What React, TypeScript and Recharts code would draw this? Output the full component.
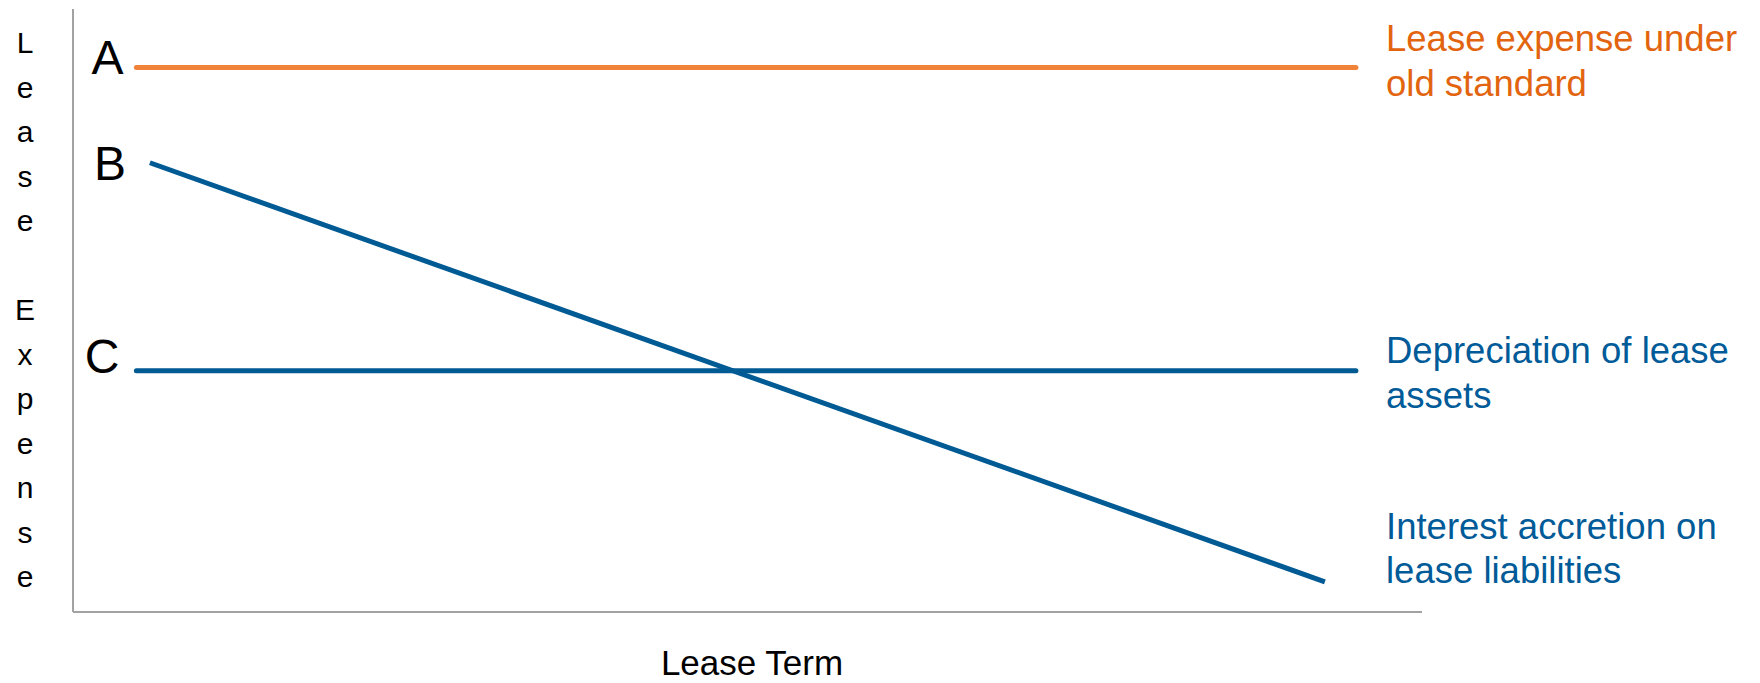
import { LineChart, Line, XAxis, YAxis, Customized } from 'recharts';

// lease term position (0-100) and expense level (0-100) of each line's end points
const termA = [4.7, 95.1];
const expenseA = [90.3, 90.3];
const termB = [5.7, 92.8];
const expenseB = [74.5, 5];
const termC = [4.7, 95.1];
const expenseC = [40, 40];

const seriesLetters = ['A', 'B', 'C'];
const seriesNotes = [
  ['Lease expense under', 'old standard'],
  ['Interest accretion on', 'lease liabilities'],
  ['Depreciation of lease', 'assets'],
];
const yAxisTitle = 'Lease Expense';
const xAxisTitle = 'Lease Term';

const FONT = '"Liberation Sans", Arial, Helvetica, sans-serif';
const ORANGE_LINE = '#F0823A';
const ORANGE_TEXT = '#E2640F';
const BLUE_LINE = '#005A94';
const BLUE_TEXT = '#005B98';
const AXIS = '#A2A2A2';

const toRows = (terms: number[], values: number[]) =>
  terms.map((t, i) => ({ t, v: values[i] }));

const dataA = toRows(termA, expenseA);
const dataB = toRows(termB, expenseB);
const dataC = toRows(termC, expenseC);

// letter drawn just left of the first point of a line
const letterLabel = (letter: string, dx: number, dy: number) => (props: any) => {
  const { x, y, index } = props;
  if (index !== 0) return null;
  return (
    <text
      key={letter}
      x={x + dx}
      y={y + dy}
      textAnchor="end"
      fontFamily={FONT}
      fontSize={48}
      fill="#000"
    >
      {letter}
    </text>
  );
};

function Annotations() {
  const note = (lines: string[], y: number, color: string) => (
    <text x={1386} y={y} fontFamily={FONT} fontSize={36.5} fill={color}>
      {lines.map((l, i) => (
        <tspan key={i} x={1386} dy={i === 0 ? 0 : 44.5}>
          {l}
        </tspan>
      ))}
    </text>
  );
  return (
    <g>
      {note(seriesNotes[0], 51, ORANGE_TEXT)}
      {note(seriesNotes[2], 363, BLUE_TEXT)}
      {note(seriesNotes[1], 538.5, BLUE_TEXT)}
      <text x={25} y={53} textAnchor="middle" fontFamily={FONT} fontSize={30} fill="#000">
        {yAxisTitle.split('').map((ch, i) => (
          <tspan key={i} x={25} dy={i === 0 ? 0 : 44.5}>
            {ch === ' ' ? '\u00a0' : ch}
          </tspan>
        ))}
      </text>
      <text x={752} y={675} textAnchor="middle" fontFamily={FONT} fontSize={35} fill="#000">
        {xAxisTitle}
      </text>
    </g>
  );
}

export default function App() {
  return (
    <div style={{ position: 'absolute', left: 0, top: 0, width: 1760, height: 683, background: '#fff' }}>
      <LineChart width={1760} height={683} margin={{ top: 9, right: 338, bottom: 70, left: 72 }}>
        <XAxis
          type="number"
          dataKey="t"
          domain={[0, 100]}
          tick={false}
          tickLine={false}
          height={1}
          axisLine={{ stroke: AXIS, strokeWidth: 2 }}
        />
        <YAxis
          type="number"
          dataKey="v"
          domain={[0, 100]}
          tick={false}
          tickLine={false}
          width={1}
          axisLine={{ stroke: AXIS, strokeWidth: 2 }}
        />
        <Line
          data={dataA}
          dataKey="v"
          type="linear"
          stroke={ORANGE_LINE}
          strokeWidth={5}
          strokeLinecap="round"
          dot={false}
          isAnimationActive={false}
          label={letterLabel(seriesLetters[0], -13, 7)}
        />
        <Line
          data={dataB}
          dataKey="v"
          type="linear"
          stroke={BLUE_LINE}
          strokeWidth={5}
          dot={false}
          isAnimationActive={false}
          label={letterLabel(seriesLetters[1], -24, 17)}
        />
        <Line
          data={dataC}
          dataKey="v"
          type="linear"
          stroke={BLUE_LINE}
          strokeWidth={5}
          strokeLinecap="round"
          dot={false}
          isAnimationActive={false}
          label={letterLabel(seriesLetters[2], -17, 2)}
        />
        <Customized component={Annotations} />
      </LineChart>
    </div>
  );
}
